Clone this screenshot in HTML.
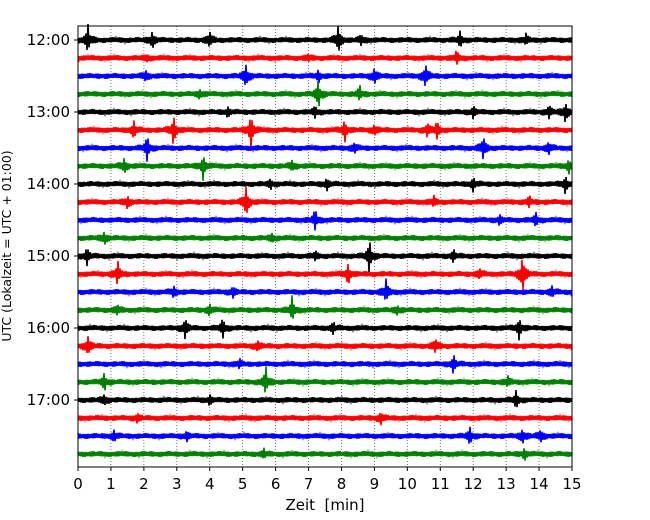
<!DOCTYPE html>
<html><head><meta charset="utf-8"><style>
body{margin:0;background:#fff;}
svg{display:block;font-family:"DejaVu Sans","Liberation Sans",sans-serif;}
</style></head><body>
<svg id="chart" width="650" height="520" viewBox="0 0 650 520">
<g id="grid"></g>
<g id="traces"></g>
<rect x="78" y="26" width="494" height="441" fill="none" stroke="#000" stroke-width="1"/>
<g id="xaxis"></g>
<g id="yaxis"></g>
<text x="325" y="510" font-size="15" text-anchor="middle" xml:space="preserve">Zeit  [min]</text>
<text transform="translate(11,246) rotate(-90)" font-size="12.5" text-anchor="middle">UTC (Lokalzeit = UTC + 01:00)</text>
</svg>
<script>
const xTicks=[0,1,2,3,4,5,6,7,8,9,10,11,12,13,14,15];
const yTickLabels=["12:00","13:00","14:00","15:00","16:00","17:00"];
const traceColors=["#000000","#ff0000","#0000ff","#008000"];
const noiseLevel=[3,3,3,3,3,3,3,3,3,3,3,3,3,3,3,3,3,3,3,3,3,3,3,3];
const events=[
 [[0.3,14],[2.25,8],[4.0,8],[7.9,14],[8.6,5],[11.6,7],[13.6,5]],
 [[11.5,6],[2.1,3],[7.0,3]],
 [[5.1,12],[9.0,8],[10.55,12],[7.3,5],[2.05,5]],
 [[7.3,14],[8.55,7],[3.7,4]],
 [[7.2,5],[14.8,10],[14.3,6],[12.0,5],[4.55,4]],
 [[1.7,8],[2.9,14],[5.25,18],[8.1,10],[10.9,8],[10.6,6],[9.0,5]],
 [[2.1,12],[12.3,12],[14.3,6],[8.4,5]],
 [[1.4,7],[3.8,12],[14.9,6],[6.5,5]],
 [[12.0,6],[14.8,8],[7.55,5],[5.85,4]],
 [[5.1,16],[1.5,6],[10.8,5],[13.7,5]],
 [[7.2,10],[13.9,6],[12.8,4]],
 [[0.8,6],[5.9,4]],
 [[8.85,16],[0.27,8],[11.4,5],[7.2,4]],
 [[1.2,12],[8.2,10],[13.5,20],[12.2,5]],
 [[9.35,12],[2.9,5],[4.7,5],[14.4,5]],
 [[6.5,12],[1.2,5],[4.0,5],[9.7,4]],
 [[3.25,10],[4.4,9],[13.4,10],[7.75,5]],
 [[0.3,10],[10.85,7],[5.45,5]],
 [[11.4,8],[4.9,4]],
 [[0.8,8],[5.7,14],[13.05,5]],
 [[13.3,8],[0.8,5],[4.0,4]],
 [[9.2,6],[1.8,4]],
 [[11.9,8],[13.5,7],[14.05,6],[1.1,5],[3.3,4]],
 [[13.55,5],[5.65,4]]
];
const NS="http://www.w3.org/2000/svg";
const X0=78,X1=572,Y0=40,DY=18;
const xs=t=>X0+(t/15)*(X1-X0);
const ys=k=>Y0+k*DY;
function mk(tag,attrs,parent){const e=document.createElementNS(NS,tag);for(const k in attrs)e.setAttribute(k,attrs[k]);parent.appendChild(e);return e;}
const grid=document.getElementById('grid'),xa=document.getElementById('xaxis'),ya=document.getElementById('yaxis'),tr=document.getElementById('traces');
xTicks.forEach(t=>{
 if(t>0&&t<15){const l=mk('line',{x1:xs(t),x2:xs(t),y1:26,y2:467,stroke:'#555','stroke-width':0.8,'stroke-dasharray':'1,2'},grid);
 
 }
 const tk=mk('line',{x1:xs(t),x2:xs(t),y1:467,y2:471,stroke:'#000'},xa);
 
 
 const tx=mk('text',{x:xs(t),y:489,'font-size':15,'text-anchor':'middle'},xa);tx.textContent=t;
 
 
});
yTickLabels.forEach((lab,i)=>{
 const y=ys(i*4);
 const tk=mk('line',{x1:74,x2:78,y1:y,y2:y,stroke:'#000'},ya);
 
 
 const tx=mk('text',{x:70,y:y+5,'font-size':15,'text-anchor':'end'},ya);tx.textContent=lab;
 
 
});
events.forEach((ev,k)=>{
 const y=ys(k);let d='';
 for(let px=0;px<=X1-X0;px++){
  const t=px/(X1-X0)*15;
  const tex=0.6+0.4*Math.abs(Math.sin(px*1.7+k*3.1)*Math.cos(px*0.37+k));
  let a=noiseLevel[k]*tex;
  ev.forEach(e=>{
   const dt=t-e[0];
   a+=e[1]*(0.75*Math.exp(-Math.pow(dt/0.035,2))*(0.5+0.5*tex)+0.25*Math.exp(-Math.pow(dt/0.18,2))*tex);
  });
  const s=(px%2?1:-1);
  d+=(px?'L':'M')+(X0+px)+','+(y+s*a).toFixed(1);
 }
 const p=mk('path',{d:d,fill:'none',stroke:traceColors[k%4],'stroke-width':1.6},tr);
 
 
});
</script>
</body></html>
